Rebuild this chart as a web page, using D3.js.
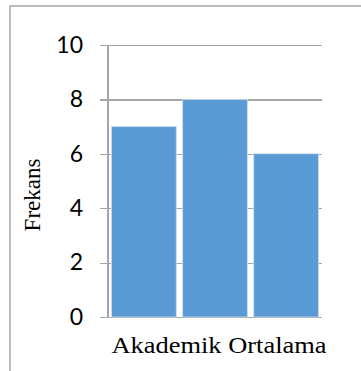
<!DOCTYPE html>
<html>
<head>
<meta charset="utf-8">
<script src="https://cdn.jsdelivr.net/npm/d3@7"></script>
<style>
  html, body { margin: 0; padding: 0; background: #fff; }
  svg { display: block; }
</style>
</head>
<body>
<svg id="chart" width="361" height="371"></svg>
<script>
// Frequency of each group on the academic average measure
const categories = ["g1", "g2", "g3"];
const values = [7, 8, 6];
const yTicks = [0, 2, 4, 6, 8, 10];
const xTitle = "Akademik Ortalama";
const yTitle = "Frekans";

const serifFont = '"Liberation Serif", "Times New Roman", serif';
const numFont = '"Lato", "Open Sans", "Liberation Sans", sans-serif';

const svg = d3.select("#chart");
const plot = { left: 108, right: 322, top: 45, bottom: 317 };

// Outer chart-area frame (only left and top edges fall inside the view)
svg.append("path")
  .attr("d", "M10,372V6H362")
  .attr("fill", "none")
  .attr("stroke", "#a6a6a6")
  .attr("stroke-width", 1.5);

const x = d3.scaleBand()
  .domain(categories)
  .range([plot.left, plot.right])
  .paddingInner(0.09)
  .paddingOuter(0.05);

const y = d3.scaleLinear()
  .domain([0, 10])
  .range([plot.bottom, plot.top]);

// Horizontal gridlines with tick stubs on the left of the axis
const yAxis = d3.axisLeft(y)
  .tickValues(yTicks)
  .tickSize(plot.right - plot.left + 8)
  .tickPadding(17)
  .tickFormat(d3.format("d"));

const gy = svg.append("g")
  .attr("transform", `translate(${plot.right},0)`)
  .call(yAxis);
gy.select(".domain").remove();
gy.selectAll(".tick line")
  .attr("stroke", "#a6a6a6")
  .attr("stroke-width", 1.2)
  .attr("shape-rendering", "crispEdges");
gy.selectAll(".tick text")
  .attr("fill", "#000")
  .style("font-family", numFont)
  .style("font-size", "23px");

// Vertical axis line
svg.append("line")
  .attr("x1", plot.left).attr("x2", plot.left)
  .attr("y1", y(10)).attr("y2", y(0))
  .attr("stroke", "#a6a6a6")
  .attr("stroke-width", 1.2)
  .attr("shape-rendering", "crispEdges");

// Bars
svg.append("g")
  .selectAll("rect")
  .data(values)
  .join("rect")
  .attr("x", (d, i) => x(categories[i]))
  .attr("y", d => y(d))
  .attr("width", x.bandwidth())
  .attr("height", d => y(0) - y(d))
  .attr("fill", "#5b9bd5")
  .attr("stroke", "#c9dcf0")
  .attr("stroke-width", 0.8);

// Axis titles
svg.append("text")
  .attr("x", 219)
  .attr("y", 353)
  .attr("text-anchor", "middle")
  .style("font-family", serifFont)
  .style("font-size", "23px")
  .attr("textLength", 215)
  .attr("lengthAdjust", "spacingAndGlyphs")
  .attr("fill", "#000")
  .text(xTitle);

svg.append("text")
  .attr("transform", "translate(40,195) rotate(-90)")
  .attr("text-anchor", "middle")
  .style("font-family", serifFont)
  .style("font-size", "23px")
  .attr("fill", "#000")
  .text(yTitle);
</script>
</body>
</html>
